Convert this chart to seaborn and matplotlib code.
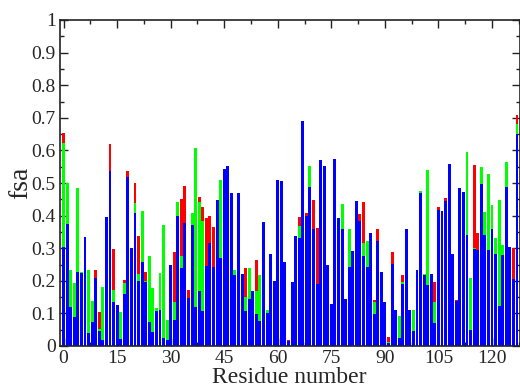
import matplotlib
matplotlib.use("Agg")
import matplotlib.pyplot as plt
import seaborn as sns
import numpy as np
import pandas as pd
from matplotlib.ticker import MultipleLocator, FormatStrFormatter

residues = list(range(128))

blue = [0.305, 0.374, 0.121, 0.090, 0.228, 0.223, 0.334, 0.041, 0.075, 0.208,
        0.046, 0.018, 0.395, 0.537, 0.135, 0.125, 0.020, 0.159, 0.519, 0.302,
        0.407, 0.200, 0.259, 0.197, 0.074, 0.044, 0.107, 0.110, 0.024, 0.018,
        0.248, 0.080, 0.399, 0.239, 0.378, 0.147, 0.371, 0.119, 0.169, 0.106,
        0.245, 0.315, 0.243, 0.448, 0.271, 0.542, 0.552, 0.470, 0.219, 0.470,
        0.221, 0.106, 0.144, 0.169, 0.098, 0.078, 0.379, 0.100, 0.282, 0.199,
        0.509, 0.505, 0.257, 0.015, 0.195, 0.338, 0.330, 0.691, 0.399, 0.489,
        0.358, 0.190, 0.571, 0.552, 0.248, 0.128, 0.573, 0.392, 0.360, 0.143,
        0.243, 0.291, 0.445, 0.383, 0.275, 0.241, 0.346, 0.098, 0.322, 0.228,
        0.134, 0.008, 0.251, 0.110, 0.026, 0.189, 0.359, 0.110, 0.046, 0.232,
        0.470, 0.218, 0.187, 0.221, 0.071, 0.417, 0.415, 0.446, 0.558, 0.282,
        0.138, 0.484, 0.471, 0.340, 0.049, 0.297, 0.294, 0.497, 0.340, 0.294,
        0.360, 0.282, 0.123, 0.278, 0.487, 0.303, 0.205, 0.650]

green = [0.622, 0.501, 0.233, 0.194, 0.484, 0.226, 0.334, 0.233, 0.139, 0.208,
         0.051, 0.182, 0.395, 0.537, 0.172, 0.127, 0.104, 0.192, 0.519, 0.302,
         0.438, 0.221, 0.414, 0.200, 0.276, 0.179, 0.116, 0.225, 0.371, 0.080,
         0.248, 0.134, 0.443, 0.275, 0.378, 0.147, 0.407, 0.606, 0.442, 0.383,
         0.245, 0.315, 0.243, 0.448, 0.509, 0.542, 0.552, 0.470, 0.234, 0.470,
         0.221, 0.149, 0.239, 0.169, 0.168, 0.218, 0.379, 0.110, 0.282, 0.199,
         0.509, 0.505, 0.257, 0.015, 0.195, 0.338, 0.368, 0.691, 0.399, 0.552,
         0.358, 0.190, 0.571, 0.552, 0.248, 0.128, 0.573, 0.392, 0.435, 0.143,
         0.359, 0.291, 0.445, 0.383, 0.315, 0.322, 0.346, 0.135, 0.322, 0.228,
         0.134, 0.013, 0.251, 0.110, 0.092, 0.197, 0.359, 0.110, 0.110, 0.232,
         0.475, 0.220, 0.540, 0.221, 0.136, 0.417, 0.415, 0.446, 0.558, 0.282,
         0.138, 0.484, 0.471, 0.594, 0.210, 0.300, 0.294, 0.550, 0.412, 0.527,
         0.433, 0.330, 0.448, 0.310, 0.565, 0.303, 0.205, 0.680]

red = [0.652, 0.501, 0.233, 0.194, 0.484, 0.226, 0.334, 0.233, 0.139, 0.233,
       0.104, 0.182, 0.395, 0.619, 0.297, 0.127, 0.104, 0.202, 0.538, 0.302,
       0.499, 0.337, 0.414, 0.228, 0.276, 0.179, 0.116, 0.225, 0.371, 0.080,
       0.248, 0.289, 0.443, 0.450, 0.491, 0.172, 0.407, 0.606, 0.458, 0.425,
       0.393, 0.399, 0.366, 0.448, 0.509, 0.542, 0.552, 0.470, 0.234, 0.470,
       0.221, 0.239, 0.239, 0.169, 0.264, 0.218, 0.379, 0.110, 0.282, 0.199,
       0.509, 0.505, 0.257, 0.018, 0.195, 0.338, 0.397, 0.691, 0.407, 0.552,
       0.448, 0.362, 0.571, 0.552, 0.248, 0.128, 0.573, 0.392, 0.435, 0.143,
       0.359, 0.291, 0.445, 0.405, 0.441, 0.322, 0.346, 0.141, 0.360, 0.228,
       0.134, 0.029, 0.289, 0.110, 0.092, 0.218, 0.359, 0.110, 0.110, 0.232,
       0.475, 0.220, 0.540, 0.221, 0.197, 0.425, 0.415, 0.455, 0.558, 0.282,
       0.141, 0.484, 0.471, 0.594, 0.210, 0.554, 0.346, 0.550, 0.412, 0.527,
       0.433, 0.330, 0.448, 0.310, 0.565, 0.303, 0.300, 0.710]

sns.set_style("white")
plt.rcParams['font.family'] = ['Liberation Serif', 'DejaVu Serif']

fig = plt.figure(figsize=(5.2, 3.88), dpi=100)
ax = fig.add_axes([60/520, 1 - 346/388, 459.5/520, 326/388])

df = pd.DataFrame({"residue": residues, "blue": blue, "green": green, "red": red})
for col, c in [("red", "#ff0000"), ("green", "#00ff00"), ("blue", "#0000ff")]:
    sns.barplot(data=df, x="residue", y=col, native_scale=True, color=c,
                saturation=1, width=0.82, linewidth=0, ax=ax, zorder=2)

ax.set_xlim(-1, 127.7)
ax.set_ylim(0, 1)
ax.xaxis.set_major_locator(MultipleLocator(15))
ax.xaxis.set_minor_locator(MultipleLocator(7.5))
ax.yaxis.set_major_locator(MultipleLocator(0.1))
ax.yaxis.set_minor_locator(MultipleLocator(0.05))
ax.yaxis.set_major_formatter(FormatStrFormatter('%g'))
ax.tick_params(which='both', direction='in', top=True, right=True,
               bottom=True, left=True, labelsize=14, pad=3, color='#222222')
ax.tick_params(which='major', length=6, width=1)
ax.tick_params(which='minor', length=3, width=1)
for s in ax.spines.values():
    s.set_linewidth(1.2)
    s.set_color('#222222')
    s.set_zorder(5)
ax.set_xlabel("Residue number", fontsize=17, labelpad=0)
ax.set_ylabel("fsa", fontsize=20, labelpad=-1)

fig.savefig("out.png", dpi=100)
